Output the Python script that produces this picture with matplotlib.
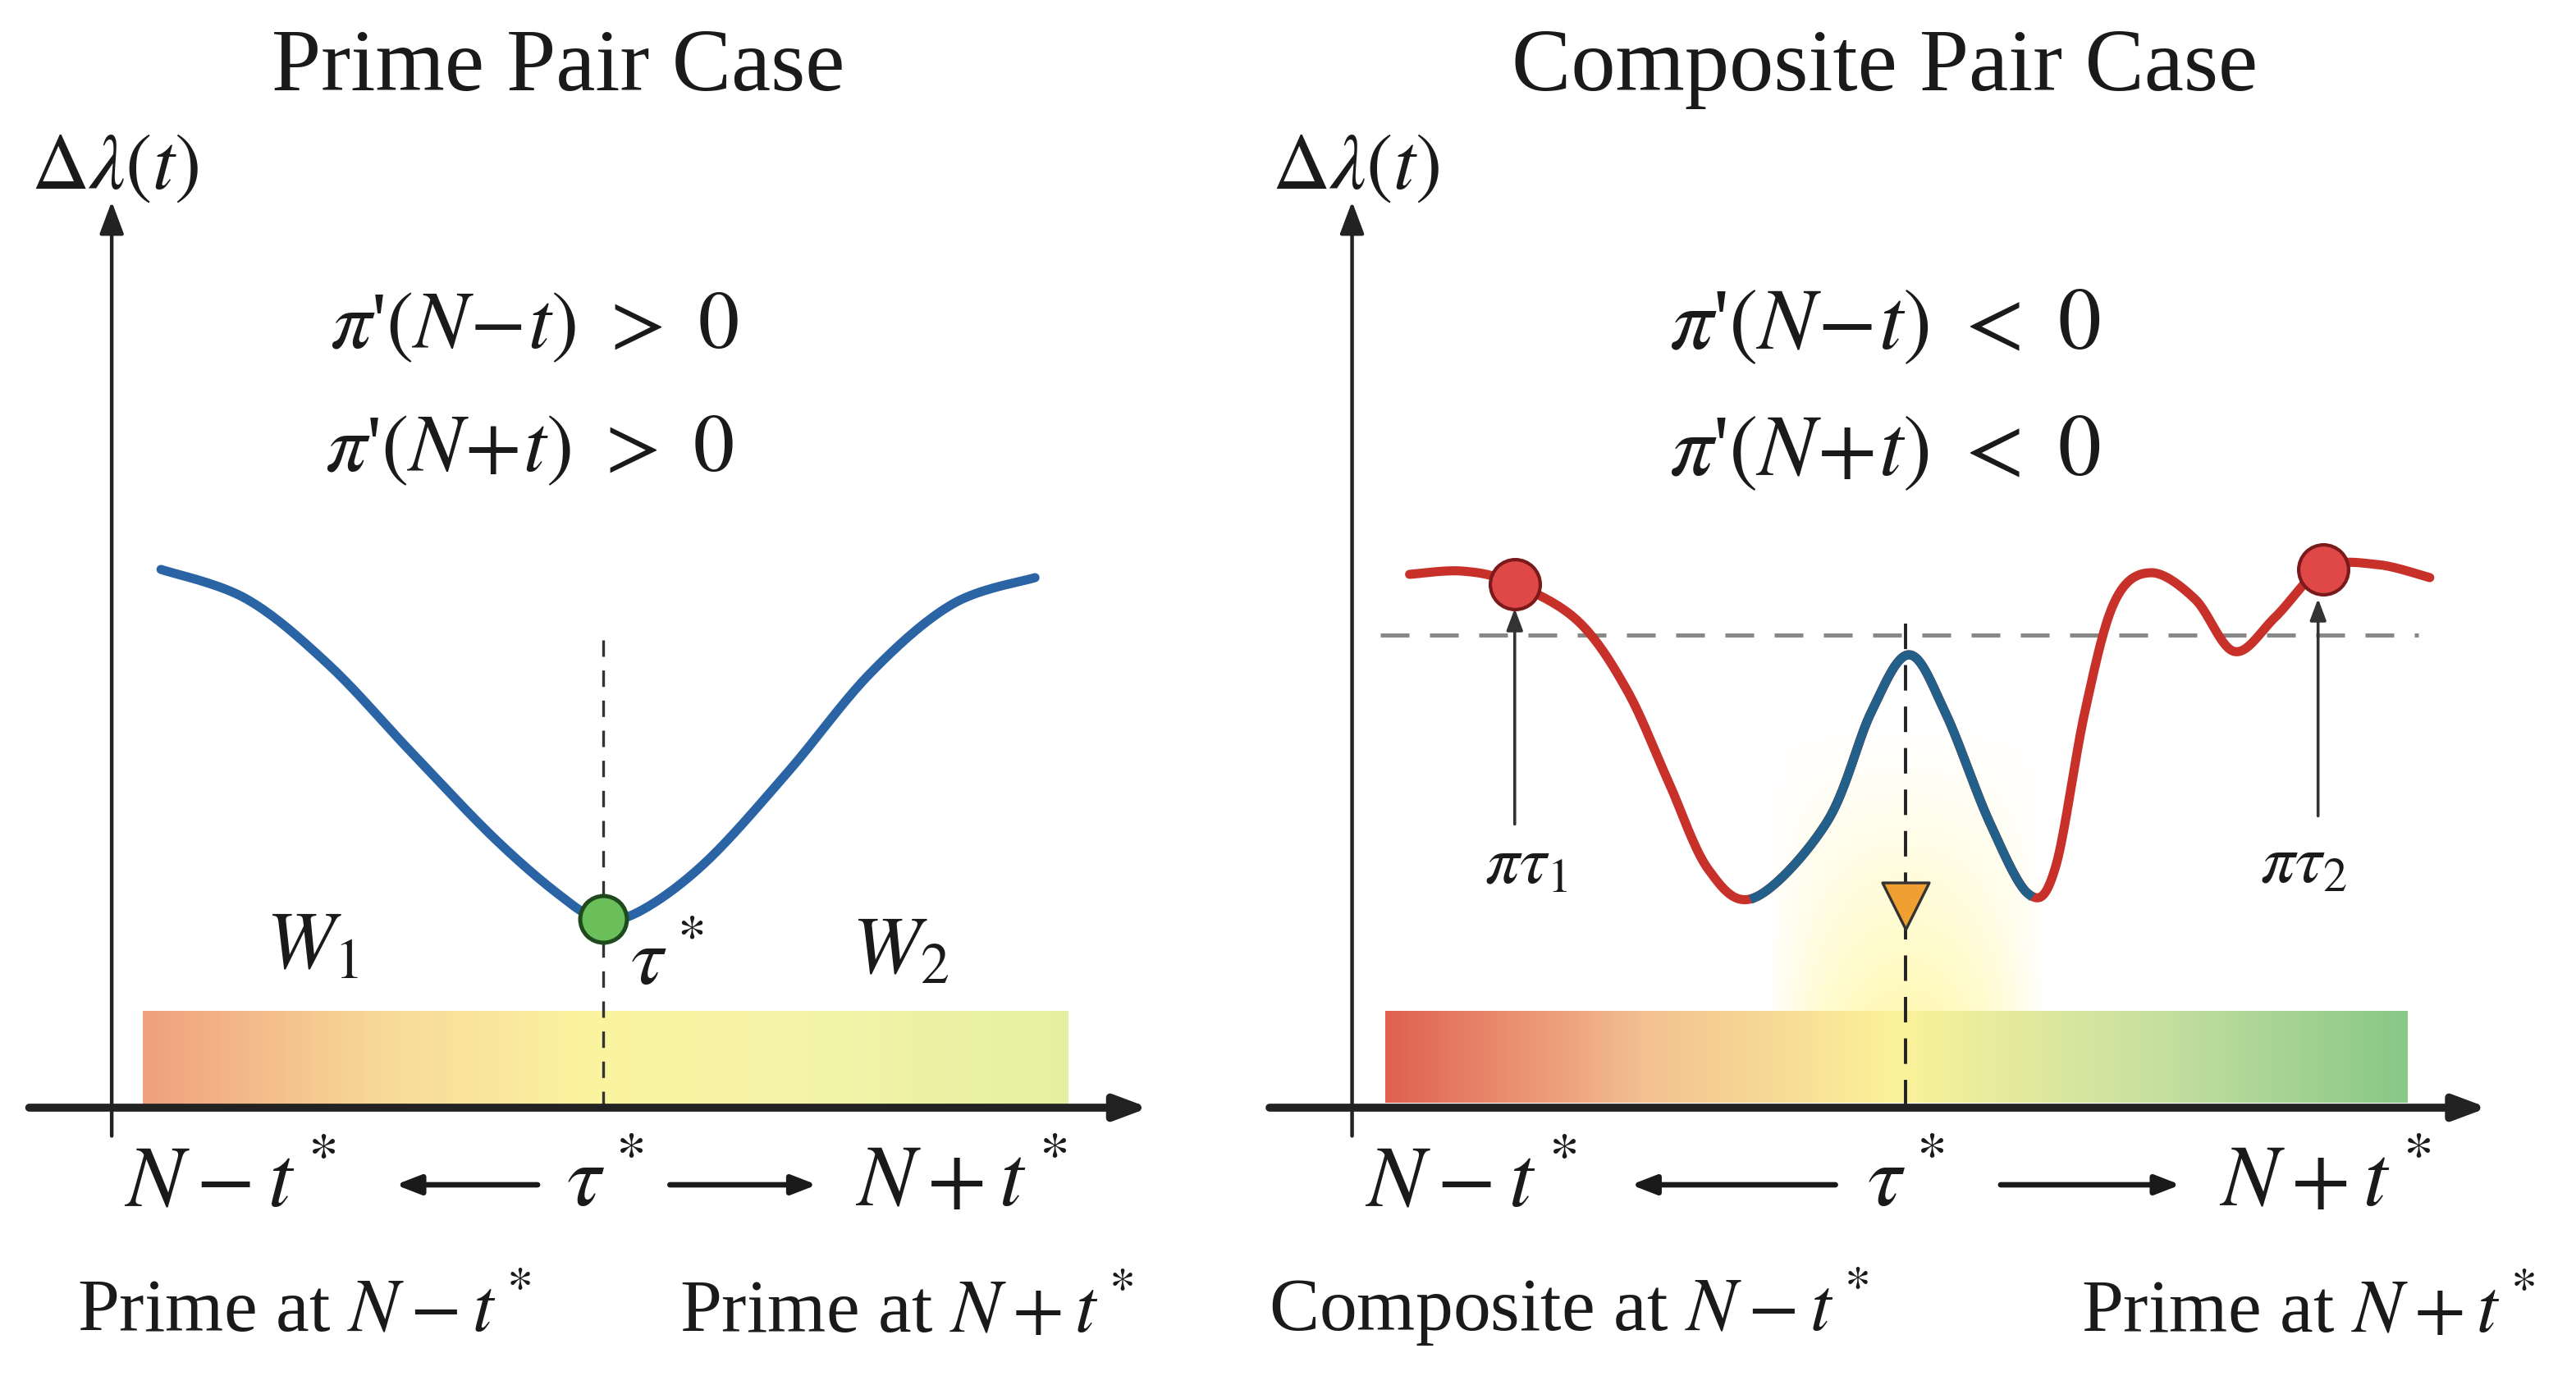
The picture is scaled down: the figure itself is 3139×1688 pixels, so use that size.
import numpy as np
import matplotlib.pyplot as plt
from matplotlib.colors import LinearSegmentedColormap

plt.rcParams['font.family'] = ['Liberation Serif', 'DejaVu Serif']
plt.rcParams['mathtext.fontset'] = 'stix'

# curve points (half-scale pixel coords)
left_x = [98, 150, 200, 250, 300, 340, 365, 390, 430, 480, 530, 580, 630]
left_y = [347, 365, 405, 458, 510, 545, 560, 555, 525, 470, 410, 368, 352]

right_x = [858, 890, 920, 960, 990, 1015, 1040, 1068, 1112, 1139, 1162, 1184, 1211,
           1235, 1251, 1269, 1287, 1309, 1336, 1360, 1385, 1414, 1447, 1479]
right_y = [350, 348, 355, 378, 420, 475, 530, 547, 501, 434, 399, 434, 501,
           545, 529, 434, 367, 349, 365, 397, 376, 346, 344, 352]
blue_from, blue_to = 1068, 1235

dots_x = [922, 1414]
dots_y = [356, 347]


def smooth(xs, ys, n=20):
    # Catmull-Rom rendering through the read points
    p = np.column_stack([xs, ys]).astype(float)
    p = np.vstack([p[0], p, p[-1]])
    out = []
    for i in range(1, len(p) - 2):
        p0, p1, p2, p3 = p[i - 1], p[i], p[i + 1], p[i + 2]
        for t in np.linspace(0, 1, n, endpoint=False):
            t2, t3 = t * t, t * t * t
            out.append(0.5 * (2 * p1 + (-p0 + p2) * t + (2 * p0 - 5 * p1 + 4 * p2 - p3) * t2
                              + (-p0 + 3 * p1 - 3 * p2 + p3) * t3))
    out.append(p[-2])
    out = np.array(out)
    return out[:, 0], out[:, 1]


fig = plt.figure(figsize=(15.695, 8.44), dpi=200)
ax = fig.add_axes([0, 0, 1, 1])
ax.set_xlim(0, 1568)
ax.set_ylim(844, 0)
ax.axis('off')

# gradient bars
cm1 = LinearSegmentedColormap.from_list('l', ['#f0a07c', '#f8d898', '#fbf5a0', '#f3f3a8', '#e4f0a0'])
ax.imshow(np.linspace(0, 1, 256)[None, :], cmap=cm1, extent=[87, 650, 675, 616], aspect='auto', zorder=1)
cm2 = LinearSegmentedColormap.from_list('r', ['#e06050', '#f3c090', '#fbf39a', '#c8e0a0', '#88c888'])
ax.imshow(np.linspace(0, 1, 256)[None, :], cmap=cm2, extent=[843, 1465, 672, 616], aspect='auto', zorder=1)

# yellow glow under the central peak
gx = np.linspace(-1, 1, 200)
gy = np.linspace(0, 1, 200)
GX, GY = np.meshgrid(gx, gy)
glow = np.zeros((200, 200, 4))
glow[..., 0], glow[..., 1], glow[..., 2] = 1.0, 0.97, 0.6
glow[..., 3] = np.clip(1 - GX ** 2, 0, 1) * GY ** 1.2 * 0.7
ax.imshow(glow, extent=[1075, 1245, 616, 440], aspect='auto', zorder=1)

# axes with arrows
ak = dict(arrowstyle='-|>,head_length=1.2,head_width=0.45', color='#222222', lw=1.6)
ax.annotate('', xy=(68, 120), xytext=(68, 695), arrowprops=ak, zorder=3)
ax.annotate('', xy=(702, 675), xytext=(15, 675), arrowprops=dict(ak, lw=3.5), zorder=3)
ax.annotate('', xy=(823, 120), xytext=(823, 695), arrowprops=ak, zorder=3)
ax.annotate('', xy=(1517, 675), xytext=(770, 675), arrowprops=dict(ak, lw=3.5), zorder=3)

# dashed guides
ax.plot([367, 367], [390, 675], ls=(0, (6, 5)), color='#333333', lw=1.2, zorder=2)
ax.plot([840, 1472], [387, 387], ls=(0, (7, 5)), color='#888888', lw=1.8, zorder=2)
ax.plot([1160, 1160], [380, 675], ls=(0, (8, 5)), color='#222222', lw=1.4, zorder=2)

# curves
lx, ly = smooth(left_x, left_y)
ax.plot(lx, ly, color='#2a64a4', lw=4, solid_capstyle='round', zorder=4)
ax.scatter([367], [560], s=420, color='#6abf5a', edgecolor='#1e4a1e', lw=1.8, zorder=5)

rx, ry = smooth(right_x, right_y)
ax.plot(rx, ry, color='#c8302a', lw=4, solid_capstyle='round', zorder=4)
m = (rx >= blue_from) & (rx <= blue_to)
ax.plot(rx[m], ry[m], color='#22608a', lw=4, zorder=4)
ax.scatter(dots_x, dots_y, s=480, color='#e04848', edgecolor='#7a1a1a', lw=1.5, zorder=5)
ax.scatter([1160], [552], s=420, marker='v', color='#f0a030', edgecolor='#333333', lw=1.2, zorder=5)

ak2 = dict(arrowstyle='-|>,head_length=0.8,head_width=0.3', color='#333333', lw=1.3)
ax.annotate('', xy=(922, 368), xytext=(922, 505), arrowprops=ak2, zorder=3)
ax.annotate('', xy=(1411, 362), xytext=(1411, 500), arrowprops=ak2, zorder=3)

# texts
tk = dict(ha='center', va='center', color='#1a1a1a')
ax.text(340, 42, 'Prime Pair Case', fontsize=39, **tk)
ax.text(1147, 42, 'Composite Pair Case', fontsize=39, **tk)
ax.text(70, 103, r'$\Delta\lambda(t)$', fontsize=35, **tk)
ax.text(825, 103, r'$\Delta\lambda(t)$', fontsize=35, **tk)
ax.text(325, 200, r"$\pi$'$(N\!-\!t)\ >\ 0$", fontsize=36, **tk)
ax.text(322, 275, r"$\pi$'$(N\!+\!t)\ >\ 0$", fontsize=36, **tk)
ax.text(1147, 200, r"$\pi$'$(N\!-\!t)\ <\ 0$", fontsize=38, **tk)
ax.text(1147, 277, r"$\pi$'$(N\!+\!t)\ <\ 0$", fontsize=38, **tk)
ax.text(190, 578, r'$W_1$', fontsize=36, **tk)
ax.text(406, 588, r'$\tau^*$', fontsize=36, **tk)
ax.text(548, 581, r'$W_2$', fontsize=36, **tk)
ax.text(929, 528, r'$\pi\tau_1$', fontsize=30, **tk)
ax.text(1402, 528, r'$\pi\tau_2$', fontsize=30, **tk)

ax.text(140, 722, r'$N - t^*$', fontsize=38, **tk)
ax.text(368, 722, r'$\tau^*$', fontsize=38, **tk)
ax.text(585, 722, r'$N + t^*$', fontsize=38, **tk)
ax.text(895, 722, r'$N - t^*$', fontsize=38, **tk)
ax.text(1160, 722, r'$\tau^*$', fontsize=38, **tk)
ax.text(1415, 722, r'$N + t^*$', fontsize=38, **tk)
ak3 = dict(arrowstyle='-|>,head_length=0.9,head_width=0.35', color='#1a1a1a', lw=2.4)
ax.annotate('', xy=(238, 722), xytext=(330, 722), arrowprops=ak3)
ax.annotate('', xy=(500, 722), xytext=(405, 722), arrowprops=ak3)
ax.annotate('', xy=(990, 722), xytext=(1120, 722), arrowprops=ak3)
ax.annotate('', xy=(1330, 722), xytext=(1215, 722), arrowprops=ak3)

ax.text(185, 800, r'Prime at $N - t^*$', fontsize=33, **tk)
ax.text(552, 800, r'Prime at $N + t^*$', fontsize=33, **tk)
ax.text(955, 797, r'Composite at $N - t^*$', fontsize=33, **tk)
ax.text(1405, 800, r'Prime at $N + t^*$', fontsize=33, **tk)

fig.savefig('out.png', dpi=200, facecolor='white')
